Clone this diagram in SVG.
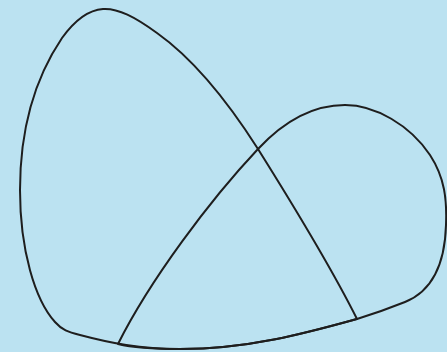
<svg xmlns="http://www.w3.org/2000/svg" width="447" height="352" viewBox="0 0 447 352">
<style>
.loop{fill:none;stroke:#1e1e1e;stroke-width:2;stroke-linejoin:round}
</style>
<rect width="447" height="352" fill="#bbe2f1"/>
<g id="loopA">
<path class="loop" d="M357,319 C330,265 290,200 258,149 C230,105 195,60 157,33 C135,17 118,8 103,9 C88,10 75,20 62,38 C35,78 20,130 20,190 C20,250 35,300 55,322 C62,330 68,332 80,335 C110,343 140,349 180,349 C250,349 310,332 357,319 Z"/>
</g>
<g id="loopB">
<path class="loop" d="M118,344 C150,280 210,200 258,149 C285,120 315,105 345,105 C375,105 410,125 430,155 C445,178 447,200 446,225 C445,260 435,290 405,302 C390,308 370,315 357,319 C310,332 250,349 180,349 C150,349 130,347 118,344 Z"/>
</g>
</svg>
